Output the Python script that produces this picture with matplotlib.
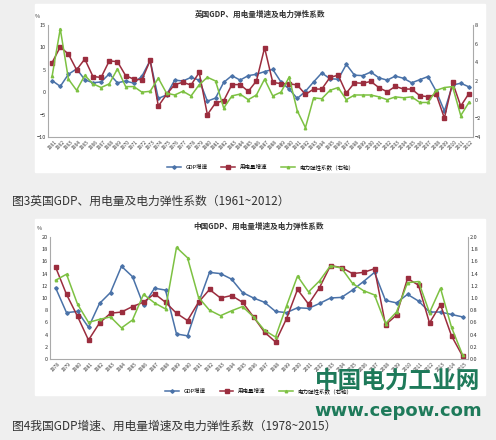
import matplotlib
matplotlib.use("Agg")
import matplotlib.pyplot as plt
from matplotlib.patches import Rectangle

plt.rcParams['font.family'] = ['Noto Sans CJK SC', 'DejaVu Sans']

uk_years = [str(y) for y in range(1961, 2013)]
uk_gdp = [2.6,1.3,4.0,5.2,2.8,2.1,2.3,4.1,2.1,2.5,2.0,3.6,7.1,-1.4,-0.6,2.7,2.5,3.3,2.7,-2.0,-1.3,2.2,3.7,2.7,3.7,4.0,4.6,5.1,2.3,0.7,-1.4,0.2,2.3,4.3,3.0,2.9,6.2,3.8,3.7,4.5,3.2,2.7,3.6,3.1,2.1,2.8,3.5,0.2,-4.2,1.6,2.0,1.2]
uk_elec = [6.6,10.1,8.5,5.0,7.4,3.5,3.3,7.0,6.8,3.7,2.9,2.8,7.1,-3.1,-0.5,1.7,2.2,1.6,4.4,-5.0,-2.4,-1.9,1.7,1.7,0.2,2.5,9.9,2.2,1.9,1.9,1.6,-0.5,0.7,0.7,3.3,3.8,-0.2,2.1,2.0,2.4,1.0,0.1,1.3,0.7,0.7,-0.8,-1.0,-0.5,-5.8,2.2,-3.1,-0.3]
uk_elas = [2.5,7.6,2.2,1.0,2.6,1.7,1.3,1.7,3.3,1.4,1.4,0.8,0.9,2.3,0.7,0.5,0.9,0.4,1.6,2.4,2.0,-0.9,0.4,0.6,0.0,0.5,2.2,0.4,0.8,2.4,-1.2,-3.0,0.2,0.1,1.0,1.3,0.0,0.5,0.5,0.5,0.3,0.0,0.3,0.2,0.3,-0.3,-0.3,1.0,1.3,1.4,-1.7,-0.3]

cn_years = [str(y) for y in range(1978, 2016)]
cn_gdp = [11.7,7.6,7.8,5.2,9.1,10.9,15.2,13.5,8.8,11.6,11.3,4.1,3.8,9.2,14.2,14.0,13.1,10.9,10.0,9.3,7.8,7.6,8.4,8.3,9.1,10.0,10.1,11.3,12.7,14.2,9.6,9.2,10.6,9.5,7.7,7.7,7.3,6.9]
cn_elec = [15.1,10.6,7.0,3.1,5.9,7.5,7.7,8.6,9.3,10.7,9.3,7.5,6.3,9.3,11.4,10.0,10.4,9.3,6.9,4.4,2.8,6.6,11.4,9.0,11.7,15.3,15.0,14.0,14.2,14.8,5.6,7.2,13.2,12.1,5.9,8.9,3.8,0.5]
cn_elas = [1.29,1.39,0.90,0.60,0.65,0.69,0.51,0.64,1.06,0.92,0.82,1.83,1.66,1.01,0.80,0.71,0.79,0.86,0.69,0.47,0.36,0.87,1.36,1.10,1.28,1.53,1.49,1.24,1.12,1.05,0.58,0.77,1.25,1.27,0.76,1.16,0.52,0.07]

C_GDP, C_EL, C_ES = '#4a72a8', '#9b2d3e', '#7dc142'

fig = plt.figure(figsize=(4.96, 4.40), dpi=100)
fig.patch.set_facecolor('#efefef')
fig.add_artist(Rectangle((35/496, 1-172/440), 450/496, 168/440, transform=fig.transFigure, color='white', zorder=0))
fig.add_artist(Rectangle((35/496, 1-395/440), 450/496, 176/440, transform=fig.transFigure, color='white', zorder=0))

def panel(rect, years, gdp, elec, elas, ylim, yt, y2lim, y2t, title, l3):
    ax = fig.add_axes(rect)
    ax.set_facecolor('none')
    x = range(len(years))
    ax.plot(x, gdp, color=C_GDP, marker='D', ms=1.8, lw=1.1, label='GDP增速')
    ax.plot(x, elec, color=C_EL, marker='s', ms=2.5, lw=1.1, label='用电量增速')
    ax2 = ax.twinx()
    ax2.plot(x, elas, color=C_ES, marker='^', ms=1.8, lw=1.1, label=l3)
    ax.set_ylim(*ylim); ax.set_yticks(yt)
    ax2.set_ylim(*y2lim); ax2.set_yticks(y2t)
    ax.set_xlim(-0.5, len(years)-0.5)
    ax.set_xticks(list(x)); ax.set_xticklabels(years, rotation=45, fontsize=3.5)
    for a in (ax, ax2):
        a.tick_params(labelsize=4, length=0, pad=1.5, colors='#333333')
        for s in a.spines.values():
            s.set_visible(False)
    ax.spines['left'].set_visible(True); ax.spines['left'].set_color('#aaaaaa')
    ax.spines['bottom'].set_visible(True); ax.spines['bottom'].set_color('#aaaaaa')
    ax2.spines['right'].set_visible(True); ax2.spines['right'].set_color('#aaaaaa')
    ax.tick_params(axis='x', labelsize=3.5)
    ax.set_title(title, fontsize=5.5, fontweight='bold', pad=6, color='#333333')
    ax.text(-0.02, 1.06, '%', transform=ax.transAxes, fontsize=4, ha='right', color='#333333')
    h1, lb1 = ax.get_legend_handles_labels(); h2, lb2 = ax2.get_legend_handles_labels()
    ax.legend(h1+h2, lb1+lb2, loc='upper center', bbox_to_anchor=(0.5, -0.2), ncol=3,
              frameon=False, fontsize=4, handlelength=2.5, columnspacing=2.5)
    return ax

panel([48/496, 1-137/440, 425/496, 112/440], uk_years, uk_gdp, uk_elec, uk_elas,
      (-10, 15), range(-10, 16, 5), (-4, 8), range(-4, 9, 2), '英国GDP、用电量增速及电力弹性系数', '电力弹性系数（右轴）')
panel([50/496, 1-359/440, 418/496, 122/440], cn_years, cn_gdp, cn_elec, cn_elas,
      (0, 20), range(0, 21, 2), (0, 2), [0,0.2,0.4,0.6,0.8,1,1.2,1.4,1.6,1.8,2], '中国GDP、用电量增速及电力弹性系数', '电力弹性系数（右轴）')

fig.text(12/496, 1-201/440, '图3英国GDP、用电量及电力弹性系数（1961~2012）', fontsize=8.5, va='center', color='#333333')
fig.text(12/496, 1-426/440, '图4我国GDP增速、用电量增速及电力弹性系数（1978~2015）', fontsize=8.5, va='center', color='#333333')
fig.text(398/496, 1-381/440, '中国电力工业网', fontsize=17, fontweight='bold', color='#1e7a5a', ha='center', va='center')
fig.text(398/496, 1-411/440, 'www.cepow.com', fontsize=13, fontweight='bold', color='#1e7a5a', ha='center', va='center', family='DejaVu Sans')

fig.savefig('out.png', dpi=100, facecolor=fig.get_facecolor())
